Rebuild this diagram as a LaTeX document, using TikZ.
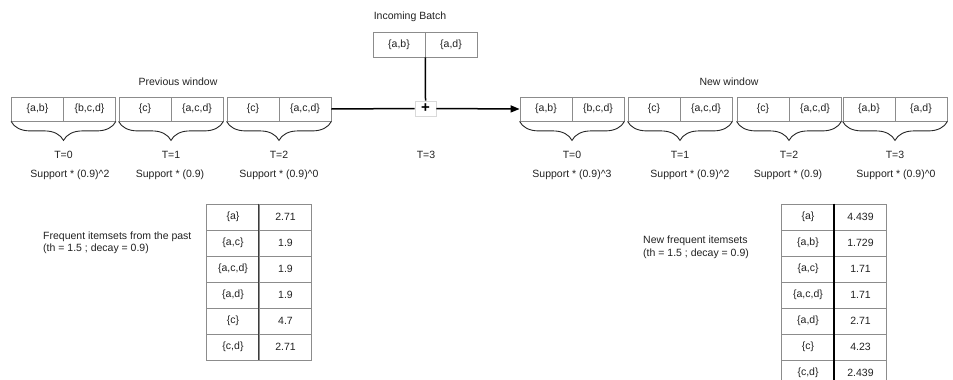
\documentclass[tikz,border=0pt]{standalone}
\usepackage{fontspec}
\setmainfont{Liberation Sans}
\usetikzlibrary{arrows.meta,decorations.pathreplacing}
\definecolor{boxgray}{HTML}{8C8C8C}
\definecolor{divgray}{HTML}{3C3C3C}
\definecolor{txt}{HTML}{222222}
\begin{document}
\begin{tikzpicture}[x=1pt,y=-1pt,
  every node/.style={font=\fontsize{10.5}{12.5}\selectfont, inner sep=0pt, text=txt},
  cell/.style={draw=boxgray, line width=0.8pt, minimum width=52pt, minimum height=24pt},
  tcell/.style={draw=boxgray, line width=0.8pt, minimum width=52.5pt, minimum height=26pt},
  lbl/.style={},
  bracestyle/.style={draw=black!85, line width=0.9pt, decorate, decoration={brace, mirror, amplitude=19pt}},
  conn/.style={line width=1.5pt, black},
]
\useasboundingbox (0,0) rectangle (953,380);
\fill[white] (0,0) rectangle (953,380);

% Incoming batch
\node[lbl] (inlbl) at (410,17) {Incoming Batch};
\node[cell, minimum height=25pt] (ia) at (399,44.5) {\{a,b\}};
\node[cell, minimum height=25pt] (ib) at (451,44.5) {\{a,d\}};

% Previous window
\node[lbl] (prevlbl) at (178,82) {Previous window};
\node[cell] (p1a) at (37.5,109) {\{a,b\}};
\node[cell] (p1b) at (89.5,109) {\{b,c,d\}};
\node[cell] (p2a) at (145,109) {\{c\}};
\node[cell] (p2b) at (197,109) {\{a,c,d\}};
\node[cell] (p3a) at (253,109) {\{c\}};
\node[cell] (p3b) at (305,109) {\{a,c,d\}};

\draw[bracestyle] (p1a.south west) -- (p1b.south east);
\draw[bracestyle] (p2a.south west) -- (p2b.south east);
\draw[bracestyle] (p3a.south west) -- (p3b.south east);

\node[lbl] (pt0) at (63.5,155) {T=0};
\node[lbl] (pt1) at (171,155) {T=1};
\node[lbl] (pt2) at (279,155) {T=2};
\node[lbl] (t3) at (426,155) {T=3};
\node[lbl] (ps0) at (70,175) {Support * (0.9)\^{}2};
\node[lbl] (ps1) at (170,175) {Support * (0.9)};
\node[lbl] (ps2) at (279,175) {Support * (0.9)\^{}0};

% plus
\node[draw=black!15, fill=white, line width=0.6pt, minimum width=21pt, minimum height=15pt, font=\fontsize{15}{15}\selectfont\bfseries, text=black] (plus) at (425.5,108.5) {+};

% New window
\node[lbl] (newlbl) at (729,82) {New window};
\node[cell] (n1a) at (546,109) {\{a,b\}};
\node[cell] (n1b) at (598,109) {\{b,c,d\}};
\node[cell] (n2a) at (654,109) {\{c\}};
\node[cell] (n2b) at (706,109) {\{a,c,d\}};
\node[cell] (n3a) at (763,109) {\{c\}};
\node[cell] (n3b) at (815,109) {\{a,c,d\}};
\node[cell] (n4a) at (869,109) {\{a,b\}};
\node[cell] (n4b) at (921,109) {\{a,d\}};

\draw[bracestyle] (n1a.south west) -- (n1b.south east);
\draw[bracestyle] (n2a.south west) -- (n2b.south east);
\draw[bracestyle] (n3a.south west) -- (n3b.south east);
\draw[bracestyle] (n4a.south west) -- (n4b.south east);

\node[lbl] (nt0) at (572,155) {T=0};
\node[lbl] (nt1) at (680,155) {T=1};
\node[lbl] (nt2) at (789,155) {T=2};
\node[lbl] (nt3) at (895,155) {T=3};
\node[lbl] (ns0) at (572,175) {Support * (0.9)\^{}3};
\node[lbl] (ns1) at (690,175) {Support * (0.9)\^{}2};
\node[lbl] (ns2) at (788,175) {Support * (0.9)};
\node[lbl] (ns3) at (896,175) {Support * (0.9)\^{}0};

% connectors
\draw[conn] (ia.south east) -- (plus.north);
\draw[conn] (p3b.east) -- (plus.west);
\draw[conn, -{Triangle[length=9pt,width=7pt]}] (plus.east) -- (n1a.west);

% Left table
\node[lbl, align=left, anchor=west] (lefttxt) at (43,243) {Frequent itemsets from the past\\(th = 1.5 ; decay = 0.9)};
\foreach \rw/\key/\val [count=\i from 0] in {a/{\{a\}}/2.71, b/{\{a,c\}}/1.9, c/{\{a,c,d\}}/1.9, d/{\{a,d\}}/1.9, e/{\{c\}}/4.7, f/{\{c,d\}}/2.71}{
  \node[tcell] (l-\rw-k) at (233,217+26*\i) {\key};
  \node[tcell] (l-\rw-v) at (285.5,217+26*\i) {\val};
}
\draw[divgray, line width=1pt] (l-a-v.north west) -- (l-f-v.south west);

% Right table
\node[lbl, align=left, anchor=west] (righttxt) at (643,247.5) {New frequent itemsets\\(th = 1.5 ; decay = 0.9)};
\foreach \rw/\key/\val [count=\i from 0] in {a/{\{a\}}/4.439, b/{\{a,b\}}/1.729, c/{\{a,c\}}/1.71, d/{\{a,c,d\}}/1.71, e/{\{a,d\}}/2.71, f/{\{c\}}/4.23, g/{\{c,d\}}/2.439}{
  \node[tcell] (r-\rw-k) at (808,217+26*\i) {\key};
  \node[tcell] (r-\rw-v) at (860.5,217+26*\i) {\val};
}
\draw[black, line width=1.4pt] (r-a-v.north west) -- (r-g-v.south west);
\end{tikzpicture}
\end{document}
